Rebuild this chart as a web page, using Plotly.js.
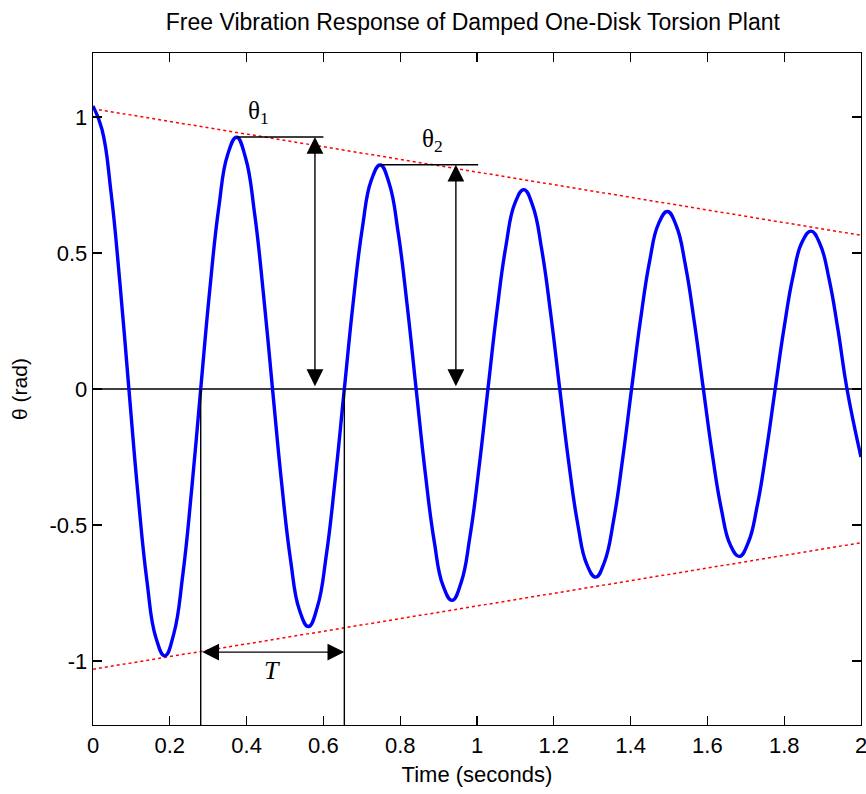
<!DOCTYPE html>
<html>
<head>
<meta charset="utf-8">
<script src="https://cdn.plot.ly/plotly-3.0.1.min.js"></script>
<style>html,body{margin:0;padding:0;background:#fff;}#chart{width:866px;height:794px;}</style>
</head>
<body>
<div id="chart"></div>
<script>
// Response curve (seconds, rad)
var timeValues = [0, 0.0234, 0.0468, 0.0701, 0.0935, 0.1169, 0.1403, 0.1636,
  0.187, 0.2104, 0.2338, 0.2571, 0.2805, 0.3039, 0.3273, 0.3506,
  0.374, 0.3974, 0.4208, 0.4441, 0.4675, 0.4909, 0.5143, 0.5376,
  0.561, 0.5844, 0.6078, 0.6311, 0.6545, 0.6779, 0.7013, 0.7246,
  0.748, 0.7714, 0.7948, 0.8181, 0.8415, 0.8649, 0.8883, 0.9116,
  0.935, 0.9584, 0.9818, 1.0051, 1.0285, 1.0519, 1.0753, 1.0986,
  1.122, 1.1454, 1.1688, 1.1921, 1.2155, 1.2389, 1.2623, 1.2856,
  1.309, 1.3324, 1.3558, 1.3791, 1.4025, 1.4259, 1.4493, 1.4726,
  1.496, 1.5194, 1.5428, 1.5661, 1.5895, 1.6129, 1.6363, 1.6596,
  1.683, 1.7064, 1.7298, 1.7531, 1.7765, 1.7999, 1.8233, 1.8466,
  1.87, 1.8934, 1.9168, 1.9401, 1.9635, 2.0];
var thetaValues = [1.04, 0.9538, 0.7247, 0.3894, 0, -0.3838, -0.7039, -0.913,
  -0.9811, -0.8999, -0.6837, -0.3673, 0, 0.362, 0.664, 0.8613,
  0.9255, 0.8489, 0.645, 0.3465, 0, -0.3415, -0.6264, -0.8125,
  -0.8731, -0.8007, -0.6084, -0.3269, 0, 0.3222, 0.5909, 0.7665,
  0.8236, 0.7554, 0.574, 0.3084, 0, -0.3039, -0.5574, -0.723,
  -0.7769, -0.7126, -0.5414, -0.2909, 0, 0.2867, 0.5259, 0.6821,
  0.7329, 0.6722, 0.5107, 0.2744, 0, -0.2705, -0.496, -0.6434,
  -0.6914, -0.6341, -0.4818, -0.2589, 0, 0.2551, 0.468, 0.607,
  0.6522, 0.5982, 0.4545, 0.2442, 0, -0.2407, -0.4414, -0.5726,
  -0.6153, -0.5643, -0.4288, -0.2304, 0, 0.2271, 0.4164, 0.5402,
  0.5804, 0.5323, 0.4045, 0.2173, 0, -0.25];
// Decay envelope (dotted red)
var envTime = [0, 2];
var envUpper = [1.03, 0.565];
var envLower = [-1.03, -0.565];
// Annotation geometry
var zeroCross = [0.2805, 0.6545];
var periodArrowY = -0.967;
var theta1 = {tPeak: 0.374, val: 0.926, tEnd: 0.6, tArrow: 0.578};
var theta2 = {tPeak: 0.748, val: 0.824, tEnd: 1.003, tArrow: 0.945};
var xTicks = [0, 0.2, 0.4, 0.6, 0.8, 1, 1.2, 1.4, 1.6, 1.8, 2];
var xTickText = ['0', '0.2', '0.4', '0.6', '0.8', '1', '1.2', '1.4', '1.6', '1.8', '2'];
var yTicks = [-1, -0.5, 0, 0.5, 1];
var yTickText = ['-1', '-0.5', '0', '0.5', '1'];

var FONT = 'Liberation Sans, Arial, sans-serif';
var SERIF = 'Liberation Serif, Times New Roman, serif';
var yRange = [-1.235, 1.235];

var traces = [
  {x: envTime, y: envUpper, mode: 'lines', line: {color: '#ff0000', width: 1.5, dash: 'dot'}, hoverinfo: 'skip'},
  {x: envTime, y: envLower, mode: 'lines', line: {color: '#ff0000', width: 1.5, dash: 'dot'}, hoverinfo: 'skip'},
  {x: timeValues, y: thetaValues, mode: 'lines', line: {color: '#0000ff', width: 3.4, shape: 'spline', smoothing: 1.3}, hoverinfo: 'skip'}
];

var blk = {color: '#000', width: 1.4};
var shapes = [
  {type: 'line', xref: 'x', yref: 'y', x0: 0, x1: 2, y0: 0, y1: 0, line: blk, layer: 'below'},
  {type: 'line', xref: 'x', yref: 'y', x0: zeroCross[0], x1: zeroCross[0], y0: 0, y1: yRange[0], line: blk},
  {type: 'line', xref: 'x', yref: 'y', x0: zeroCross[1], x1: zeroCross[1], y0: 0, y1: yRange[0], line: blk},
  {type: 'line', xref: 'x', yref: 'y', x0: theta1.tPeak, x1: theta1.tEnd, y0: theta1.val, y1: theta1.val, line: blk},
  {type: 'line', xref: 'x', yref: 'y', x0: theta2.tPeak, x1: theta2.tEnd, y0: theta2.val, y1: theta2.val, line: blk}
];

function dblArrow(x0, y0, x1, y1) {
  return {xref: 'x', yref: 'y', axref: 'x', ayref: 'y', x: x1, y: y1, ax: x0, ay: y0,
    text: '', showarrow: true, arrowhead: 2, startarrowhead: 2, arrowside: 'end+start',
    arrowsize: 2.4, startarrowsize: 2.4, arrowwidth: 1.4, arrowcolor: '#000', standoff: 0, startstandoff: 0};
}

var annotations = [
  dblArrow(zeroCross[0], periodArrowY, zeroCross[1], periodArrowY),
  dblArrow(theta1.tArrow, 0.005, theta1.tArrow, theta1.val),
  dblArrow(theta2.tArrow, 0.005, theta2.tArrow, theta2.val),
  {xref: 'x', yref: 'y', x: 0.432, y: 1.015, text: 'θ<sub>1</sub>', showarrow: false,
    font: {family: SERIF, size: 25, color: '#000'}},
  {xref: 'x', yref: 'y', x: 0.885, y: 0.912, text: 'θ<sub>2</sub>', showarrow: false,
    font: {family: SERIF, size: 25, color: '#000'}},
  {xref: 'x', yref: 'y', x: 0.466, y: -1.035, text: '<i>T</i>', showarrow: false,
    font: {family: SERIF, size: 26, color: '#000'}}
];

var layout = {
  width: 866, height: 794,
  margin: {l: 93, r: 5, t: 53, b: 69, pad: 0},
  paper_bgcolor: '#fff', plot_bgcolor: '#fff',
  showlegend: false,
  font: {family: FONT, size: 21, color: '#000'},
  title: {text: 'Free Vibration Response of Damped One-Disk Torsion Plant', font: {family: FONT, size: 23, color: '#000'},
    x: 0.546, xanchor: 'center', y: 0.972, yanchor: 'middle'},
  xaxis: {range: [0, 2], tickvals: xTicks, ticktext: xTickText, ticks: 'inside', ticklen: 9, tickwidth: 1.2, tickcolor: '#000',
    showline: true, linecolor: '#000', linewidth: 1.3, mirror: 'ticks', showgrid: false, zeroline: false,
    ticklabeloverflow: 'allow',
    tickfont: {family: FONT, size: 22, color: '#000'},
    title: {text: 'Time (seconds)', font: {family: FONT, size: 22, color: '#000'}, standoff: 10}},
  yaxis: {range: yRange, tickvals: yTicks, ticktext: yTickText, ticks: 'inside', ticklen: 9, tickwidth: 1.2, tickcolor: '#000',
    showline: true, linecolor: '#000', linewidth: 1.3, mirror: 'ticks', showgrid: false, zeroline: false,
    tickfont: {family: FONT, size: 22, color: '#000'},
    title: {text: 'θ (rad)', font: {family: FONT, size: 21, color: '#000'}, standoff: 16}},
  shapes: shapes,
  annotations: annotations
};

Plotly.newPlot('chart', traces, layout, {staticPlot: true, displayModeBar: false});
</script>
</body>
</html>
